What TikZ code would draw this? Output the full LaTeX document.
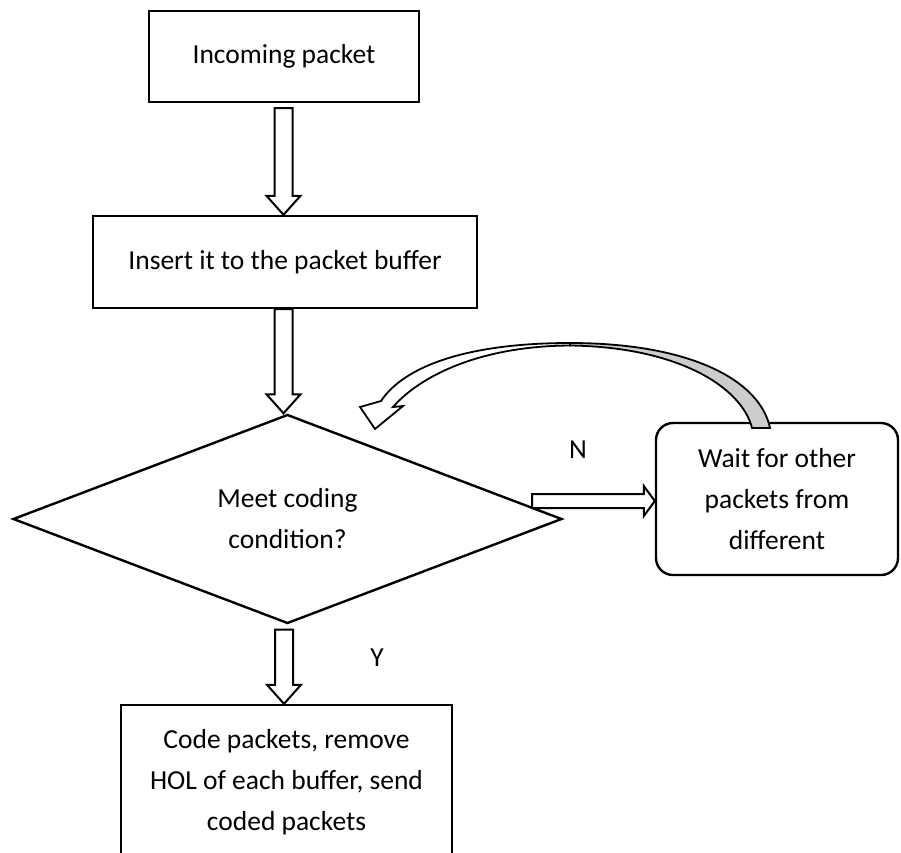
\documentclass[tikz,border=0pt]{standalone}
\usepackage{fontspec}
\setmainfont{Carlito}
\usetikzlibrary{shapes.geometric,calc}

\tikzset{
  box/.style={draw, line width=2.4pt, inner sep=0pt, align=center},
  decision/.style={draw, diamond, line width=2.4pt, inner sep=0pt},
  waitbox/.style={box, rounded corners=17pt},
  blockarrow/.style={draw, line width=2pt, fill=white, line join=miter},
  lbl/.style={align=center},
  every node/.style={font=\fontsize{27.5}{41}\selectfont},
}

% hollow block arrow pointing down: shaft from #1, tip at #2
\newcommand{\downblock}[2]{%
  \draw[blockarrow] let \p1=(#1), \p2=(#2) in
    (\x1-9pt,\y1) -- (\x1-9pt,\y2+19pt) -- (\x1-17pt,\y2+19pt) -- (\x1,\y2)
    -- (\x1+17pt,\y2+19pt) -- (\x1+9pt,\y2+19pt) -- (\x1+9pt,\y1) -- cycle;}

% hollow block arrow pointing right: shaft from #1, tip at the x of #2
\newcommand{\rightblock}[2]{%
  \draw[blockarrow] let \p1=(#1), \p2=(#2) in
    (\x1,\y1+7pt) -- (\x2-11pt,\y1+7pt) -- (\x2-11pt,\y1+15pt) -- (\x2,\y1)
    -- (\x2-11pt,\y1-15pt) -- (\x2-11pt,\y1-7pt) -- (\x1,\y1-7pt) -- cycle;}

\begin{document}
\begin{tikzpicture}[x=1pt,y=-1pt]
  \useasboundingbox (0,0) rectangle (901,852);
  \clip (0,0) rectangle (901,852);

  % process boxes
  \node[box, minimum width=270, minimum height=91] (inpkt) at (284,56.5) {Incoming packet};
  \node[box, minimum width=384, minimum height=92] (ins) at (285,262) {Insert it to the packet buffer};
  \node[decision, minimum width=549, minimum height=209] (cond) at (287.5,519) {};
  \node[lbl] (condtxt) at (cond.center) {Meet coding\\condition?};
  \node[waitbox, minimum width=242, minimum height=152] (wait) at (777,499)
    {Wait for other\\packets from\\different};
  \node[box, minimum width=331, minimum height=154] (code) at (286.5,782)
    {Code packets, remove\\HOL of each buffer, send\\coded packets};

  % branch labels
  \node (nlbl) at (578,450) {N};
  \node (ylbl) at (377,658) {Y};

  % straight block arrows
  \downblock{$(inpkt.south)+(-0.5,5)$}{$(ins.north)+(-1.5,0)$}
  \downblock{$(ins.south)+(-1.5,0)$}{$(cond.north)+(-4,0)$}
  \downblock{$(cond.south)+(-3.5,5)$}{$(code.north)+(-2,0)$}
  \rightblock{$(cond.east)+(-31,-18)$}{wait.west}

  % curved block arrow returning to the decision
  \coordinate (apexo) at (570,343);
  \coordinate (apexi) at (570,345.5);
  \coordinate (tailo) at (770,428);
  \coordinate (taili) at (752,428);
  \coordinate (loopend) at (375,429);
  % front part of the band with the head
  \draw[blockarrow, line width=1.8pt]
    (apexo) .. controls (470,343) and (405,365) .. (381,401)
    -- (360,407) -- (loopend) -- (403,406) -- (393,407)
    .. controls (420,376) and (480,346) .. (apexi) -- cycle;
  % shaded back part of the band
  \draw[blockarrow, line width=1.8pt, fill=gray!40]
    (apexo) .. controls (690,343) and (760,380) .. (tailo)
    -- (taili) .. controls (742,388) and (680,347) .. (apexi) -- cycle;
\end{tikzpicture}
\end{document}
